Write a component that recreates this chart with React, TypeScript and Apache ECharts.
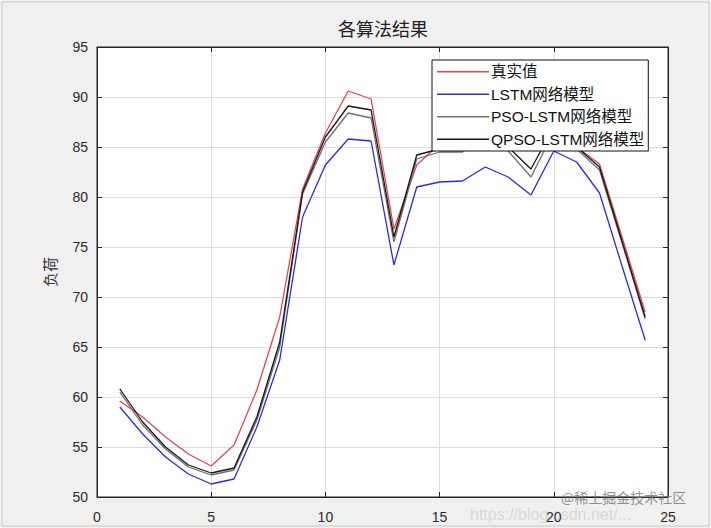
import React, { useEffect, useRef } from "react";
import * as echarts from "echarts";

const xValues = [1, 2, 3, 4, 5, 6, 7, 8, 9, 10, 11, 12, 13, 14, 15, 16, 17, 18, 19, 20, 21, 22, 23, 24];
const seriesNames = ["真实值", "LSTM网络模型", "PSO-LSTM网络模型", "QPSO-LSTM网络模型"];
const trueValues = [59.6, 58.0, 56.0, 54.3, 53.1, 55.2, 60.7, 68.0, 80.8, 86.4, 90.6, 89.8, 76.8, 83.2, 85.3, 85.5, 86.3, 86.0, 85.3, 86.5, 85.0, 83.3, 75.9, 68.5];
const lstmValues = [59.0, 56.3, 54.0, 52.3, 51.3, 51.8, 57.0, 63.7, 78.0, 83.2, 85.8, 85.6, 73.2, 81.0, 81.5, 81.6, 83.0, 82.0, 80.2, 84.6, 83.5, 80.4, 73.0, 65.7];
const psoValues = [60.5, 57.2, 54.8, 53.0, 52.2, 52.7, 57.7, 65.0, 80.3, 85.5, 88.4, 87.9, 75.5, 83.8, 84.5, 84.5, 86.0, 84.6, 82.0, 86.5, 84.8, 82.7, 75.3, 67.8];
const qpsoValues = [60.8, 57.5, 55.0, 53.2, 52.4, 52.9, 58.0, 65.5, 80.5, 86.0, 89.1, 88.7, 76.0, 84.2, 84.8, 84.8, 86.5, 85.0, 82.8, 87.0, 85.0, 83.0, 75.5, 68.0];
const seriesColors = ["#e4474f", "#2b2be6", "#6e6e6e", "#161616"];
const xTicks = { min: 0, max: 25, interval: 5 };
const yTicks = { min: 50, max: 95, interval: 5 };

export default function App() {
  const ref = useRef<HTMLDivElement>(null);
  useEffect(() => {
    if (!ref.current) return;
    const chart = echarts.init(ref.current, undefined, { renderer: "svg" });
    const allValues = [trueValues, lstmValues, psoValues, qpsoValues];
    const labelFont = { fontFamily: "Liberation Sans, Arial, sans-serif", fontSize: 14, color: "#2b2b2b" };
    chart.setOption({
      animation: false,
      backgroundColor: "#f0f0f0",
      grid: { left: 97, right: 43, top: 47, bottom: 31, show: true, backgroundColor: "#fff", borderColor: "#262626", borderWidth: 1 },
      legend: {
        orient: "vertical",
        left: 432,
        top: 60,
        z: 20,
        padding: [4, 4, 4, 5],
        itemGap: 7,
        itemWidth: 52,
        itemHeight: 14,
        icon: "path://M0,6.5 L52,6.5 L52,7.8 L0,7.8 Z",
        backgroundColor: "#fff",
        borderColor: "#111",
        borderWidth: 1,
        textStyle: { fontFamily: "Liberation Sans, Noto Sans CJK SC, sans-serif", fontSize: 15.5, color: "#111", padding: [0, 0, 0, -3] },
        data: seriesNames,
      },
      xAxis: [
        {
          type: "value",
          ...xTicks,
          axisLine: { show: true, onZero: false, lineStyle: { color: "#262626" } },
          axisTick: { show: true, inside: true, length: 5, lineStyle: { color: "#262626" } },
          axisLabel: { ...labelFont, margin: 13 },
          splitLine: { show: true, lineStyle: { color: "#dedede", width: 1 } },
        },
        {
          type: "value",
          position: "top",
          ...xTicks,
          axisLine: { show: true, onZero: false, lineStyle: { color: "#262626" } },
          axisTick: { show: true, inside: true, length: 5, lineStyle: { color: "#262626" } },
          axisLabel: { show: false },
          splitLine: { show: false },
        },
      ],
      yAxis: [
        {
          type: "value",
          ...yTicks,
          name: "负荷",
          nameLocation: "middle",
          nameGap: 40,
          nameTextStyle: { fontFamily: "Noto Sans CJK SC", fontSize: 15, color: "#333" },
          axisLine: { show: true, onZero: false, lineStyle: { color: "#262626" } },
          axisTick: { show: true, inside: true, length: 5, lineStyle: { color: "#262626" } },
          axisLabel: { ...labelFont, margin: 9 },
          splitLine: { show: true, lineStyle: { color: "#dedede", width: 1 } },
        },
        {
          type: "value",
          position: "right",
          ...yTicks,
          axisLine: { show: true, onZero: false, lineStyle: { color: "#262626" } },
          axisTick: { show: true, inside: true, length: 5, lineStyle: { color: "#262626" } },
          axisLabel: { show: false },
          splitLine: { show: false },
        },
      ],
      series: seriesNames.map((name, i) => ({
        name,
        type: "line",
        symbol: "none",
        xAxisIndex: 0,
        yAxisIndex: 0,
        color: seriesColors[i],
        lineStyle: { color: seriesColors[i], width: 1.3 },
        data: xValues.map((x, j) => [x, allValues[i][j]]),
        z: 2 + i,
      })),
      graphic: [
        {
          type: "rect",
          shape: { x: 2, y: 2, width: 707, height: 524 },
          style: { fill: "none", stroke: "#c8c8c8", lineWidth: 1 },
          silent: true,
        },
        {
          type: "text",
          x: 383,
          y: 19,
          style: { text: "各算法结果", fill: "#222", font: "18px Noto Sans CJK SC", textAlign: "center" },
          silent: true,
        },
        {
          type: "text",
          x: 470,
          y: 506,
          style: { text: "https://blog.csdn.net/...", fill: "rgba(150,150,150,0.3)", font: "16px Liberation Sans, sans-serif" },
          silent: true,
          z: 100,
        },
        {
          type: "text",
          x: 561,
          y: 490,
          style: { text: "@稀土掘金技术社区", fill: "rgba(110,110,110,0.75)", font: "14px Noto Sans CJK SC" },
          silent: true,
          z: 100,
        },
      ],
    });
    return () => chart.dispose();
  }, []);
  return <div ref={ref} style={{ position: "fixed", left: 0, top: 0, width: 711, height: 528 }} />;
}
